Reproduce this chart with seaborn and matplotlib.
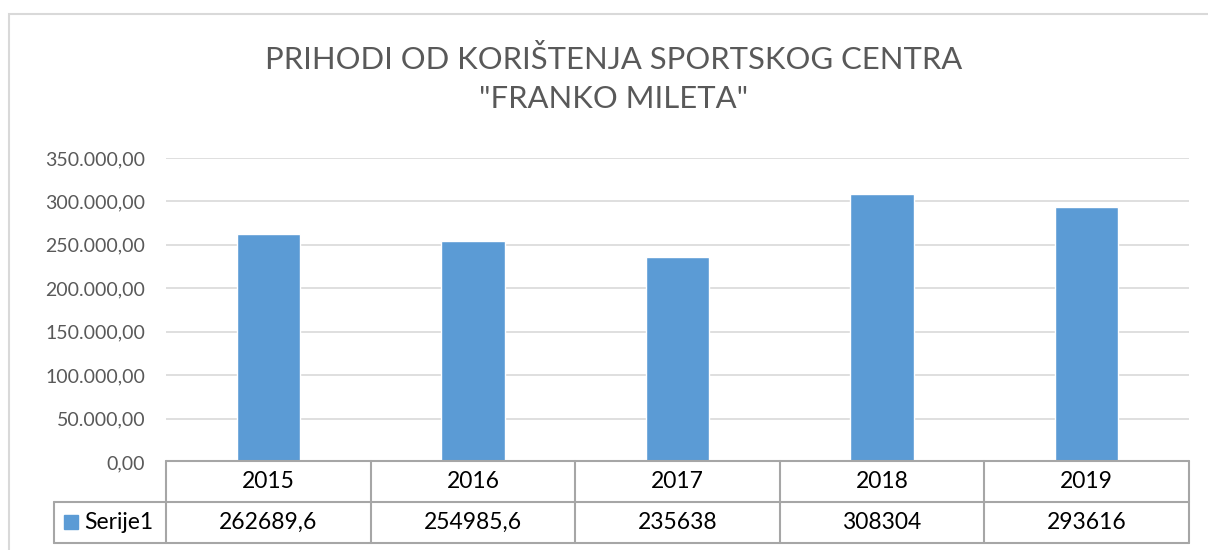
import pandas as pd
import seaborn as sns
import matplotlib.pyplot as plt
from matplotlib.lines import Line2D
from matplotlib.patches import Rectangle
from matplotlib.ticker import FuncFormatter

# data
years = ['2015', '2016', '2017', '2018', '2019']
prihodi = [262689.6, 254985.6, 235638, 308304, 293616]
table_labels = ['262689,6', '254985,6', '235638', '308304', '293616']
serija = 'Serije1'
naslov = 'PRIHODI OD KORIŠTENJA SPORTSKOG CENTRA\n"FRANKO MILETA"'

bar_color = '#5B9BD5'
text_gray = '#595959'
grid_gray = '#D9D9D9'
table_gray = '#A6A6A6'

sns.set_style('white')
plt.rcParams['font.family'] = ['Lato', 'DejaVu Sans']

W, H = 1208, 550
fig = plt.figure(figsize=(W / 100, H / 100), dpi=100)


def fx(x):
    return x / W


def fy(y):
    return 1 - y / H


# chart border
fig.add_artist(Rectangle((fx(9), fy(600)), fx(1300), fy(14) - fy(600),
                         transform=fig.transFigure, fill=False,
                         edgecolor=grid_gray, lw=1.5))

left, right, top, bottom = 166, 1189, 158, 462
ax = fig.add_axes([fx(left), fy(bottom), fx(right - left), fy(top) - fy(bottom)])

df = pd.DataFrame({'Godina': years, 'Prihod': prihodi})
sns.barplot(data=df, x='Godina', y='Prihod', color=bar_color, width=0.31,
            saturation=1, ax=ax, zorder=3)

ax.set_ylim(0, 350000)
ax.set_xlim(-0.5, len(years) - 0.5)
ax.set_yticks(range(0, 350001, 50000))
ax.yaxis.set_major_formatter(FuncFormatter(
    lambda v, p: f'{v:,.2f}'.replace(',', 'X').replace('.', ',').replace('X', '.')))
ax.tick_params(axis='y', length=0, pad=15, labelsize=14, labelcolor=text_gray)
ax.set_xticks([])
ax.set_xlabel('')
ax.set_ylabel('')
ax.yaxis.grid(True, color=grid_gray, lw=1.2, zorder=0)
for s in ax.spines.values():
    s.set_visible(False)

fig.text(0.508, fy(79), naslov, ha='center', va='center', fontsize=22.3,
         color=text_gray, linespacing=1.45)

# data table
t_top, t_mid, t_bot = 461, 502, 543
leg_left = 54
cell_w = (right - left) / len(years)


def hline(y, x0, x1):
    fig.add_artist(Line2D([fx(x0), fx(x1)], [fy(y), fy(y)], color=table_gray,
                          lw=1.5, transform=fig.transFigure))


def vline(x, y0, y1):
    fig.add_artist(Line2D([fx(x), fx(x)], [fy(y0), fy(y1)], color=table_gray,
                          lw=1.5, transform=fig.transFigure))


hline(t_top, left, right)
hline(t_mid, leg_left, right)
hline(t_bot, leg_left, right)
vline(leg_left, t_mid, t_bot)
for i in range(len(years) + 1):
    vline(left + i * cell_w, t_top, t_bot)

for i, (yr, lab) in enumerate(zip(years, table_labels)):
    cx = left + (i + 0.5) * cell_w
    fig.text(fx(cx), fy((t_top + t_mid) / 2), yr, ha='center', va='center',
             fontsize=16.5, color='black')
    fig.text(fx(cx), fy((t_mid + t_bot) / 2), lab, ha='center', va='center',
             fontsize=16.5, color='black')

fig.add_artist(Rectangle((fx(64), fy(529)), fx(14), fy(515) - fy(529),
                         transform=fig.transFigure, color=bar_color))
fig.text(fx(84), fy((t_mid + t_bot) / 2), serija, ha='left', va='center',
         fontsize=16.5, color='black')

fig.savefig('out.png', dpi=100)
